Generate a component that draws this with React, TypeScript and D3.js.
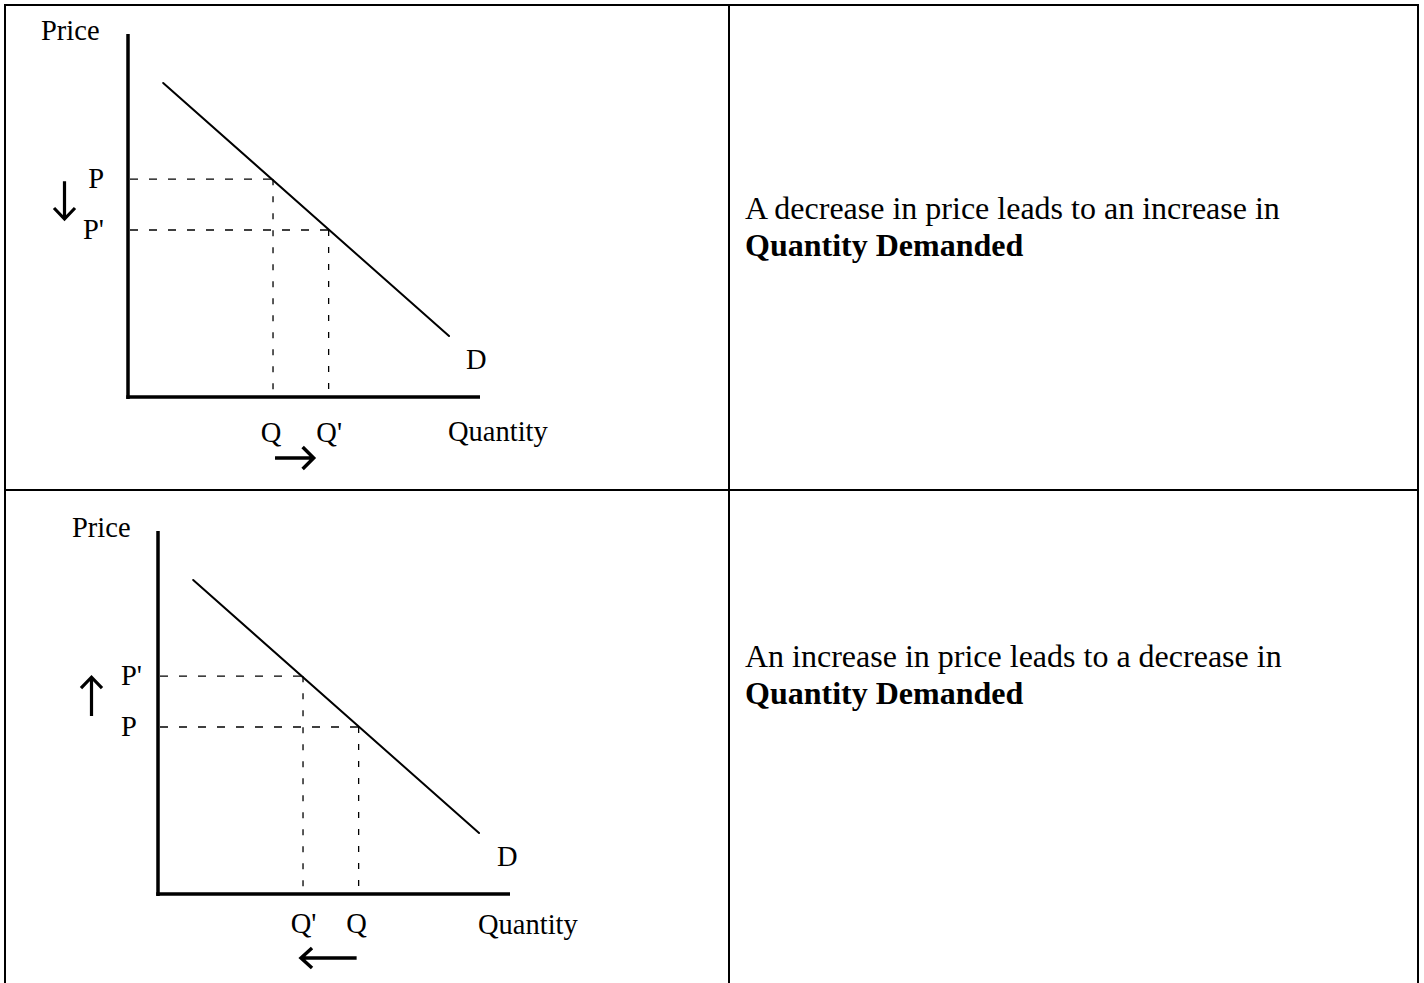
import React from "react";
import * as d3 from "d3";

// Demand curve end points (quantity, price) in axis units 0–10
const demandQ = [1.0, 9.12];
const demandP = [8.65, 1.68];

// Price levels (higher, lower) and matching quantities
const priceLevels = [6.0, 4.6];
const quantityLevels = [4.12, 5.7];

// Tick-style labels for each panel, ordered like the levels above
const topPriceLabels = ["P", "P'"];
const topQuantityLabels = ["Q", "Q'"];
const bottomPriceLabels = ["P'", "P"];
const bottomQuantityLabels = ["Q'", "Q"];

const captions = [
  "A decrease in price leads to an increase in",
  "An increase in price leads to a decrease in",
];
const emphasis = "Quantity Demanded";

const W = 1424;
const H = 983;
const FONT = "'Liberation Serif', 'Times New Roman', serif";
const LABEL_SIZE = 28.5;

type PanelProps = {
  ox: number;
  oy: number;
  priceLabels: string[];
  quantityLabels: string[];
  priceAnchor: "start" | "end";
  priceLabelX: number;
  qLabelBaseline: number;
  quantityTitle: [number, number];
  priceTitle: [number, number];
  dLabel: [number, number];
  direction: "down" | "up";
  priceArrowX: number;
  qArrowY: number;
};

function Panel(p: PanelProps) {
  const x = d3.scaleLinear().domain([0, 10]).range([p.ox, p.ox + 352]);
  const y = d3.scaleLinear().domain([0, 10]).range([p.oy, p.oy - 363]);
  const line = d3
    .line<number>()
    .x((_, i) => x(demandQ[i]))
    .y((d) => y(d));

  const hi = y(priceLevels[0]);
  const lo = y(priceLevels[1]);
  const qa = x(quantityLevels[0]);
  const qb = x(quantityLevels[1]);

  // Arrow paths for the price move (vertical) and quantity move (horizontal)
  const ax = p.priceArrowX;
  const priceArrow =
    p.direction === "down"
      ? `M${ax},${hi + 2}V${lo - 11}M${ax - 10.5},${lo - 22}L${ax},${lo - 11}L${ax + 10.5},${lo - 22}`
      : `M${ax},${lo - 11}V${hi + 1}M${ax - 10.5},${hi + 12}L${ax},${hi + 1}L${ax + 10.5},${hi + 12}`;
  const qy = p.qArrowY;
  const quantityArrow =
    p.direction === "down"
      ? `M${qa + 2},${qy}H${qb - 15}M${qb - 26},${qy - 11}L${qb - 15},${qy}L${qb - 26},${qy + 11}`
      : `M${qb - 2},${qy}H${qa - 2}M${qa + 9},${qy - 10}L${qa - 2},${qy}L${qa + 9},${qy + 10}`;

  return (
    <g fontFamily={FONT} fontSize={LABEL_SIZE} fill="#000">
      <text x={p.priceTitle[0]} y={p.priceTitle[1]}>Price</text>
      <text x={p.quantityTitle[0]} y={p.quantityTitle[1]}>Quantity</text>
      <text x={p.dLabel[0]} y={p.dLabel[1]}>D</text>

      {/* dashed guides */}
      <g stroke="#000" strokeWidth={1.3} fill="none">
        {priceLevels.map((pv, i) => (
          <line
            key={"h" + i}
            x1={p.ox + 2}
            x2={x(quantityLevels[i])}
            y1={y(pv)}
            y2={y(pv)}
            strokeDasharray="8 11"
          />
        ))}
        {quantityLevels.map((qv, i) => (
          <line
            key={"v" + i}
            x1={x(qv)}
            x2={x(qv)}
            y1={y(priceLevels[i])}
            y2={p.oy}
            strokeDasharray="6 11"
          />
        ))}
      </g>

      {/* axes */}
      <line x1={p.ox} x2={p.ox} y1={y(10)} y2={p.oy + 2} stroke="#000" strokeWidth={3.5} />
      <line x1={p.ox - 1.75} x2={x(10)} y1={p.oy} y2={p.oy} stroke="#000" strokeWidth={3.5} />

      {/* demand curve */}
      <path d={line(demandP) ?? ""} stroke="#000" strokeWidth={2} fill="none" strokeLinecap="round" />

      {/* price labels */}
      {priceLevels.map((pv, i) => (
        <text key={"pl" + i} x={p.priceLabelX} y={y(pv) + 9} textAnchor={p.priceAnchor}>
          {p.priceLabels[i]}
        </text>
      ))}
      {/* quantity labels */}
      {quantityLevels.map((qv, i) => (
        <text key={"ql" + i} x={x(qv) - 12.3} y={p.qLabelBaseline}>
          {p.quantityLabels[i]}
        </text>
      ))}

      <path d={priceArrow} stroke="#000" strokeWidth={3.2} fill="none" />
      <path d={quantityArrow} stroke="#000" strokeWidth={3.5} fill="none" />
    </g>
  );
}

export default function App() {
  const captionBaselines = [219, 667];
  return (
    <svg
      width={W}
      height={H}
      style={{ position: "absolute", left: 0, top: 0, background: "#fff" }}
    >
      <rect x={0} y={0} width={W} height={H} fill="#fff" />

      {/* table grid */}
      <g stroke="#000" strokeWidth={2}>
        <line x1={4} x2={1419} y1={5} y2={5} />
        <line x1={5} x2={5} y1={4} y2={H} />
        <line x1={1418} x2={1418} y1={4} y2={H} />
        <line x1={729} x2={729} y1={4} y2={H} />
        <line x1={4} x2={1419} y1={490} y2={490} />
      </g>

      <Panel
        ox={128}
        oy={397}
        priceLabels={topPriceLabels}
        quantityLabels={topQuantityLabels}
        priceAnchor="end"
        priceLabelX={104}
        qLabelBaseline={442}
        quantityTitle={[448, 441]}
        priceTitle={[41, 40]}
        dLabel={[466, 369]}
        direction="down"
        priceArrowX={64.5}
        qArrowY={458}
      />
      <Panel
        ox={158}
        oy={894}
        priceLabels={bottomPriceLabels}
        quantityLabels={bottomQuantityLabels}
        priceAnchor="start"
        priceLabelX={121}
        qLabelBaseline={933}
        quantityTitle={[478, 934]}
        priceTitle={[72, 537]}
        dLabel={[497, 866]}
        direction="up"
        priceArrowX={91.5}
        qArrowY={958}
      />

      {captions.map((c, i) => (
        <text key={i} fontFamily={FONT} fontSize={32} fill="#000">
          <tspan x={745} y={captionBaselines[i]}>{c}</tspan>
          <tspan x={745} y={captionBaselines[i] + 37} fontWeight="bold">{emphasis}</tspan>
        </text>
      ))}
    </svg>
  );
}
